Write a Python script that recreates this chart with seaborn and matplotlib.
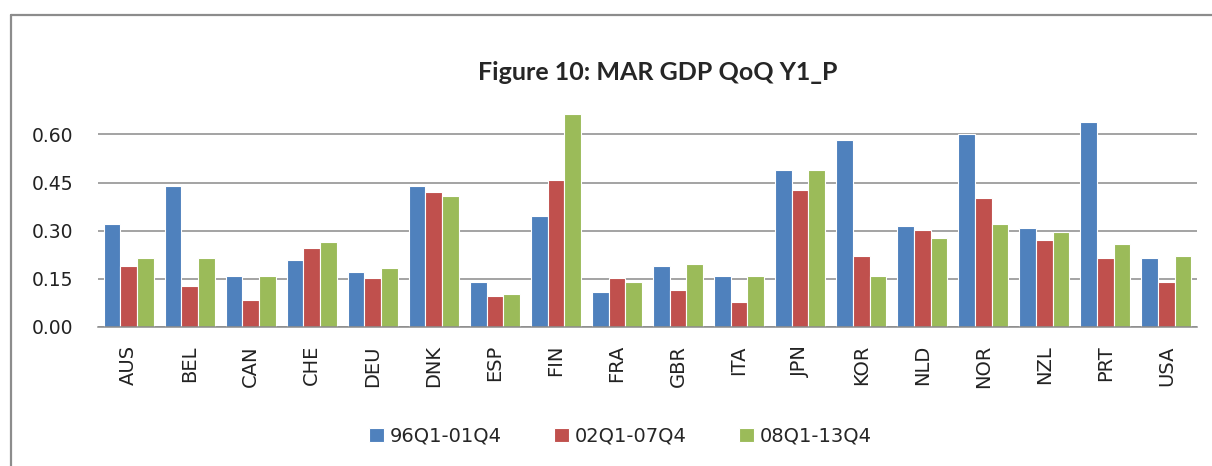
import pandas as pd
import seaborn as sns
import matplotlib.pyplot as plt
from matplotlib.lines import Line2D

countries = ['AUS', 'BEL', 'CAN', 'CHE', 'DEU', 'DNK', 'ESP', 'FIN', 'FRA',
             'GBR', 'ITA', 'JPN', 'KOR', 'NLD', 'NOR', 'NZL', 'PRT', 'USA']
periods = ['96Q1-01Q4', '02Q1-07Q4', '08Q1-13Q4']
p1 = [0.321, 0.439, 0.159, 0.208, 0.171, 0.439, 0.139, 0.346, 0.109,
      0.190, 0.159, 0.489, 0.582, 0.315, 0.601, 0.308, 0.638, 0.215]
p2 = [0.190, 0.127, 0.083, 0.246, 0.152, 0.420, 0.095, 0.458, 0.152,
      0.114, 0.077, 0.427, 0.221, 0.301, 0.402, 0.271, 0.215, 0.140]
p3 = [0.214, 0.214, 0.159, 0.265, 0.183, 0.408, 0.102, 0.663, 0.139,
      0.196, 0.159, 0.489, 0.158, 0.277, 0.321, 0.296, 0.258, 0.221]
colors = ['#4F81BD', '#C0504D', '#9BBB59']

if __name__ == '__main__':
    # long format table for seaborn
    rows = []
    for per, vals in zip(periods, [p1, p2, p3]):
        for c, v in zip(countries, vals):
            rows.append({'country': c, 'period': per, 'value': v})
    data = pd.DataFrame(rows)

    sns.set_style('white')
    plt.rcParams['font.family'] = ['DejaVu Sans']
    fig = plt.figure(figsize=(12.12, 4.66), dpi=100)
    ax = fig.add_axes([0.0809, 0.2983, 0.9067, 0.4822])

    sns.barplot(data=data, x='country', y='value', hue='period', palette=colors,
                saturation=1, width=0.82, edgecolor='white', linewidth=0.8, ax=ax)

    ax.set_ylim(0, 0.70)
    ax.set_yticks([0.0, 0.15, 0.30, 0.45, 0.60])
    ax.set_yticklabels(['0.00', '0.15', '0.30', '0.45', '0.60'])
    ax.set_xlim(-0.5, len(countries) - 0.5)
    ax.yaxis.grid(True, color='#8a8a8a', linewidth=1.1)
    ax.set_axisbelow(True)
    for s in ['top', 'right', 'left']:
        ax.spines[s].set_visible(False)
    ax.spines['bottom'].set_color('#8a8a8a')
    ax.spines['bottom'].set_linewidth(1.1)
    ax.tick_params(axis='y', length=0, pad=18, labelsize=13.5, colors='#222222')
    ax.tick_params(axis='x', length=0, pad=13, labelsize=14, colors='#222222', labelrotation=90)
    ax.set_xlabel('')
    ax.set_ylabel('')

    ax.legend(loc='center', bbox_to_anchor=(0.512, 0.064), bbox_transform=fig.transFigure,
              ncol=3, frameon=False, fontsize=14, handlelength=0.75, handleheight=0.75,
              handletextpad=0.3, columnspacing=2.7)

    fig.text(0.543, 0.845, 'Figure 10: MAR GDP QoQ Y1_P', ha='center', va='center',
             fontsize=18, fontweight='bold', family=['Lato', 'DejaVu Sans'])

    # chart frame (top and left edges visible)
    fig.add_artist(Line2D([11 / 1212, 1.0], [1 - 15 / 466, 1 - 15 / 466],
                          transform=fig.transFigure, color='#8c8c8c', linewidth=1.6))
    fig.add_artist(Line2D([11 / 1212, 11 / 1212], [0.0, 1 - 15 / 466],
                          transform=fig.transFigure, color='#8c8c8c', linewidth=1.6))

    plt.savefig('out.png', dpi=100)
